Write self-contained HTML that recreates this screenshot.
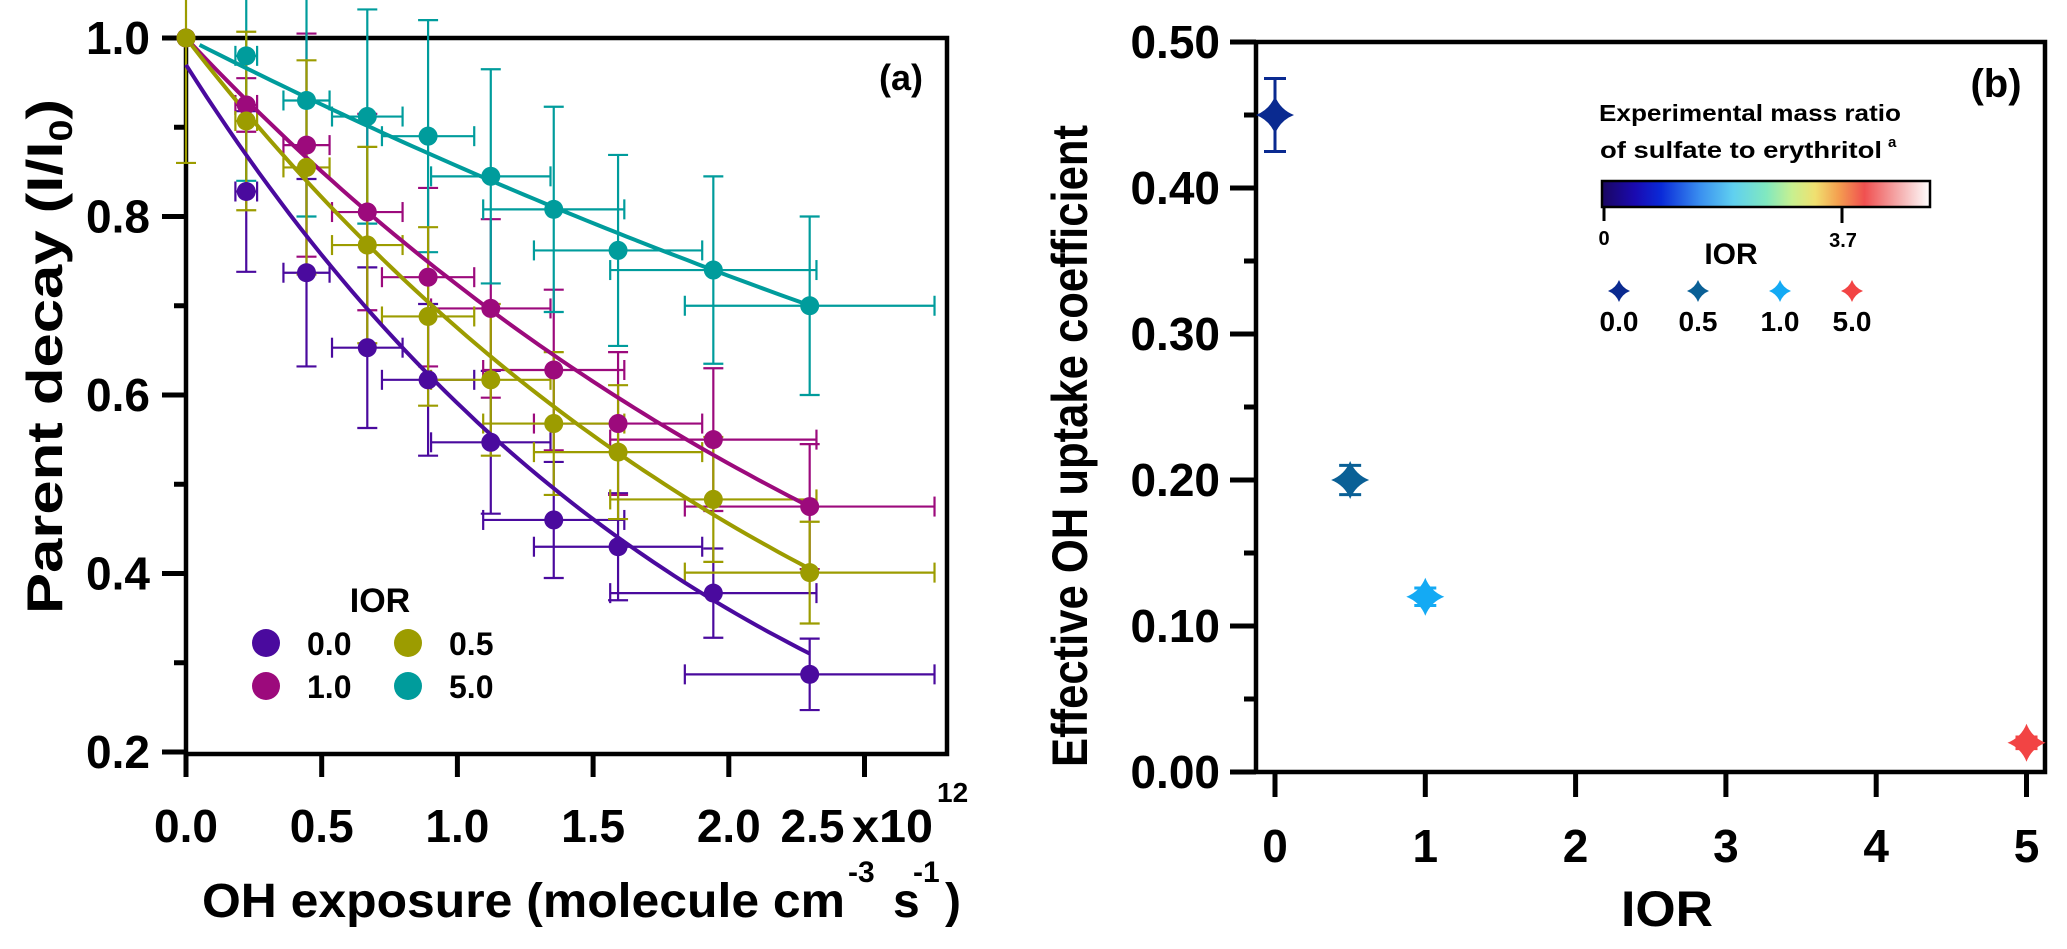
<!DOCTYPE html>
<html><head><meta charset="utf-8"><style>
html,body{margin:0;padding:0;background:#fff}
svg{display:block}
text{font-family:"Liberation Sans",sans-serif;font-weight:bold;fill:#000}
</style></head><body>
<svg id="fig" width="2067" height="949" viewBox="0 0 2067 949" xmlns="http://www.w3.org/2000/svg">
<defs>
<linearGradient id="cbar" x1="0" x2="1" y1="0" y2="0">
<stop offset="0" stop-color="#1a0660"/><stop offset="0.1" stop-color="#1a0ab0"/><stop offset="0.18" stop-color="#0a2ad8"/>
<stop offset="0.3" stop-color="#3a90f0"/><stop offset="0.4" stop-color="#60d0f0"/><stop offset="0.5" stop-color="#80e8c0"/>
<stop offset="0.58" stop-color="#c8f090"/><stop offset="0.65" stop-color="#f0e070"/><stop offset="0.72" stop-color="#f4a050"/>
<stop offset="0.8" stop-color="#f05050"/><stop offset="0.9" stop-color="#f4a8a8"/><stop offset="1" stop-color="#ffffff"/>
</linearGradient>
</defs>
<g id="panelA"></g>
<g id="panelB"></g>
</svg>
<script>
// ---------- Panel (a) data ----------
const exposure = [0, 0.222, 0.444, 0.668, 0.892, 1.123, 1.355, 1.592, 1.943, 2.298];
const exposureErr = [0, 0.04, 0.085, 0.13, 0.17, 0.22, 0.26, 0.31, 0.38, 0.46];
const seriesNames = ["0.0", "1.0", "0.5", "5.0"];
const decay00 = [1.0, 0.828, 0.737, 0.653, 0.617, 0.547, 0.46, 0.43, 0.378, 0.287];
const err00 = [0, 0.09, 0.105, 0.09, 0.085, 0.08, 0.065, 0.06, 0.05, 0.04];
const decay10 = [1.0, 0.925, 0.88, 0.805, 0.732, 0.697, 0.628, 0.568, 0.55, 0.475];
const err10 = [0, 0.03, 0.125, 0.11, 0.1, 0.1, 0.09, 0.08, 0.08, 0.07];
const decay05 = [1.0, 0.907, 0.855, 0.768, 0.688, 0.617, 0.568, 0.536, 0.483, 0.401];
const err05 = [0.14, 0.1, 0.12, 0.11, 0.1, 0.085, 0.08, 0.075, 0.07, 0.057];
const decay50 = [1.0, 0.98, 0.93, 0.912, 0.89, 0.845, 0.808, 0.762, 0.74, 0.70];
const err50 = [0, 0.14, 0.13, 0.12, 0.13, 0.12, 0.115, 0.107, 0.105, 0.1];
const fitA = [0.97, 1.0, 1.0, 1.0];      // fit amplitude
const fitK = [0.496, 0.324, 0.393, 0.155]; // fit decay constant
const fitStart = [0, 0, 0, 0.05];
const colorsA = ["#4a0a9e", "#9c0a7c", "#9c9c00", "#009c9c"];
const yTicksA = [0.2, 0.4, 0.6, 0.8, 1.0];
const yTickLabelsA = ["0.2", "0.4", "0.6", "0.8", "1.0"];
const yMinorA = [0.3, 0.5, 0.7, 0.9];
const xTicksA = [0, 0.5, 1.0, 1.5, 2.0, 2.5];
const xTickLabelsA = ["0.0", "0.5", "1.0", "1.5", "2.0", "2.5"];
// ---------- Panel (b) data ----------
const iorVals = [0, 0.5, 1.0, 5.0];
const uptake = [0.45, 0.20, 0.12, 0.02];
const uptakeErr = [0.025, 0.01, 0.006, 0.004];
const colorsB = ["#0a2a90", "#0a6096", "#14aaf4", "#f24444"];
const iorLabels = ["0.0", "0.5", "1.0", "5.0"];
const yTicksB = [0, 0.1, 0.2, 0.3, 0.4, 0.5];
const yTickLabelsB = ["0.00", "0.10", "0.20", "0.30", "0.40", "0.50"];
const yMinorB = [0.05, 0.15, 0.25, 0.35, 0.45];
const xTicksB = [0, 1, 2, 3, 4, 5];
const xTickLabelsB = ["0", "1", "2", "3", "4", "5"];

const NS = "http://www.w3.org/2000/svg";
function mk(parent, tag, attrs, txt) {
  const e = document.createElementNS(NS, tag);
  for (const k in attrs) e.setAttribute(k, attrs[k]);
  if (txt !== undefined) e.textContent = txt;
  parent.appendChild(e);
  return e;
}
// axis functions
const xA = v => 186 + v * 271.4;
const yA = v => 38 + (1.0 - v) * 892.5;
const xB = v => 1275 + v * 150.3;
const yB = v => 772 - v * 1460;

// ================= PANEL A =================
const A = document.getElementById('panelA');
// frame
let fr = mk(A, 'path', {d: `M186,38 H947 V754 H186 Z`, fill: 'none', stroke: '#000', 'stroke-width': 4.5});


// y ticks
yTicksA.forEach((v, i) => {
  const t = mk(A, 'line', {x1: 162, x2: 186, y1: yA(v), y2: yA(v), stroke: '#000', 'stroke-width': 5});
  
  
  const l = mk(A, 'text', {x: 150, y: yA(v) + 16, 'text-anchor': 'end', 'font-size': 46}, yTickLabelsA[i]);
  
  
});
yMinorA.forEach(v => {
  const t = mk(A, 'line', {x1: 174, x2: 186, y1: yA(v), y2: yA(v), stroke: '#000', 'stroke-width': 5});
  
  
});
xTicksA.forEach((v, i) => {
  const t = mk(A, 'line', {x1: xA(v), x2: xA(v), y1: 754, y2: 777, stroke: '#000', 'stroke-width': 5});
  
  
  const last = i === xTicksA.length - 1;
  const l = mk(A, 'text', {x: last ? xA(v) - 52 : xA(v), y: 842, 'text-anchor': 'middle', 'font-size': 46}, xTickLabelsA[i]);
  
  
});
let tx = mk(A, 'text', {x: 852, y: 842, 'font-size': 46, textLength: 81, lengthAdjust: 'spacingAndGlyphs'}, 'x10');


tx = mk(A, 'text', {x: 937, y: 802, 'font-size': 28}, '12');


// axis titles
tx = mk(A, 'text', {x: 202, y: 917, 'font-size': 48, textLength: 643, lengthAdjust: 'spacingAndGlyphs'}, 'OH exposure (molecule cm');


tx = mk(A, 'text', {x: 848, y: 882, 'font-size': 30}, '-3');  
tx = mk(A, 'text', {x: 893, y: 917, 'font-size': 48}, 's');  
tx = mk(A, 'text', {x: 913, y: 882, 'font-size': 30}, '-1');  
tx = mk(A, 'text', {x: 945, y: 917, 'font-size': 48}, ')');  
const yt = mk(A, 'text', {x: 0, y: 0, 'font-size': 50, transform: 'translate(62,614) rotate(-90)', textLength: 515, lengthAdjust: 'spacingAndGlyphs'});


yt.appendChild(document.createTextNode('Parent  decay (I/I'));
mk(yt, 'tspan', {'font-size': 32, dy: 10}, '0');
mk(yt, 'tspan', {dy: -10}, ')');
tx = mk(A, 'text', {x: 901, y: 90, 'text-anchor': 'middle', 'font-size': 36}, '(a)');



// series
const seriesY = [decay00, decay10, decay05, decay50];
const seriesE = [err00, err10, err05, err50];
// error bars first
[0, 1, 3, 2].forEach(s => {
  const g = mk(A, 'g', {stroke: colorsA[s], 'stroke-width': 2.2, fill: 'none'});
  
  
  exposure.forEach((xv, i) => {
    const yv = seriesY[s][i], ye = seriesE[s][i], xe = exposureErr[i];
    if (ye > 0) {
      mk(g, 'line', {x1: xA(xv), x2: xA(xv), y1: yA(yv + ye), y2: yA(yv - ye)});
      mk(g, 'line', {x1: xA(xv) - 10, x2: xA(xv) + 10, y1: yA(yv + ye), y2: yA(yv + ye)});
      mk(g, 'line', {x1: xA(xv) - 10, x2: xA(xv) + 10, y1: yA(yv - ye), y2: yA(yv - ye)});
    }
    if (xe > 0) {
      mk(g, 'line', {x1: xA(xv - xe), x2: xA(xv + xe), y1: yA(yv), y2: yA(yv)});
      mk(g, 'line', {x1: xA(xv - xe), x2: xA(xv - xe), y1: yA(yv) - 10, y2: yA(yv) + 10});
      mk(g, 'line', {x1: xA(xv + xe), x2: xA(xv + xe), y1: yA(yv) - 10, y2: yA(yv) + 10});
    }
  });
});
// fit curves
[0, 1, 3, 2].forEach(s => {
  let d = '';
  const x1 = exposure[exposure.length - 1];
  for (let j = 0; j <= 60; j++) {
    const xv = fitStart[s] + (x1 - fitStart[s]) * j / 60;
    const yv = fitA[s] * Math.exp(-fitK[s] * xv);
    d += (j ? 'L' : 'M') + xA(xv).toFixed(1) + ',' + yA(yv).toFixed(1);
  }
  const p = mk(A, 'path', {d: d, fill: 'none', stroke: colorsA[s], 'stroke-width': 4});
  
  
});
// points
[3, 0, 1, 2].forEach(s => {
  exposure.forEach((xv, i) => {
    if (s === 3 && i === 0) return;
    const c = mk(A, 'circle', {cx: xA(xv), cy: yA(seriesY[s][i]), r: 9.5, fill: colorsA[s]});
    
    
  });
});
// legend
const legA = mk(A, 'g', {});


tx = mk(legA, 'text', {x: 380, y: 612, 'text-anchor': 'middle', 'font-size': 34}, 'IOR');


const legPos = [[266, 643], [266, 686], [408, 643], [408, 686]];
seriesNames.forEach((n, s) => {
  const ge = mk(legA, 'g', {});
  
  
  mk(ge, 'circle', {cx: legPos[s][0], cy: legPos[s][1], r: 14, fill: colorsA[s]});
  mk(ge, 'text', {x: legPos[s][0] + 41, y: legPos[s][1] + 12, 'font-size': 32}, n);
});

// ================= PANEL B =================
const B = document.getElementById('panelB');
fr = mk(B, 'path', {d: `M1256,42 H2045 V772 H1256 Z`, fill: 'none', stroke: '#000', 'stroke-width': 4.5});


yTicksB.forEach((v, i) => {
  const t = mk(B, 'line', {x1: 1230, x2: 1256, y1: yB(v), y2: yB(v), stroke: '#000', 'stroke-width': 5});
  
  
  const l = mk(B, 'text', {x: 1220, y: yB(v) + 16, 'text-anchor': 'end', 'font-size': 46}, yTickLabelsB[i]);
  
  
});
yMinorB.forEach(v => {
  const t = mk(B, 'line', {x1: 1244, x2: 1256, y1: yB(v), y2: yB(v), stroke: '#000', 'stroke-width': 5});
  
  
});
xTicksB.forEach((v, i) => {
  const t = mk(B, 'line', {x1: xB(v), x2: xB(v), y1: 772, y2: 797, stroke: '#000', 'stroke-width': 5});
  
  
  const l = mk(B, 'text', {x: xB(v), y: 862, 'text-anchor': 'middle', 'font-size': 46}, xTickLabelsB[i]);
  
  
});
tx = mk(B, 'text', {x: 1667, y: 926, 'text-anchor': 'middle', 'font-size': 50, textLength: 92, lengthAdjust: 'spacingAndGlyphs'}, 'IOR');


tx = mk(B, 'text', {x: 0, y: 0, 'font-size': 50, transform: 'translate(1087,767) rotate(-90)', textLength: 642, lengthAdjust: 'spacingAndGlyphs'}, 'Effective OH uptake  coefficient');


tx = mk(B, 'text', {x: 1996, y: 97, 'text-anchor': 'middle', 'font-size': 40}, '(b)');



function star(cx, cy, r) {
  const w = r * 0.28;
  return `M${cx},${cy - r} Q${cx + w},${cy - w} ${cx + r},${cy} Q${cx + w},${cy + w} ${cx},${cy + r} Q${cx - w},${cy + w} ${cx - r},${cy} Q${cx - w},${cy - w} ${cx},${cy - r} Z`;
}
iorVals.forEach((v, i) => {
  const g = mk(B, 'g', {});
  
  
  const cx = xB(v), cy = yB(uptake[i]), e = uptakeErr[i];
  mk(g, 'line', {x1: cx, x2: cx, y1: yB(uptake[i] + e), y2: yB(uptake[i] - e), stroke: colorsB[i], 'stroke-width': 3});
  mk(g, 'line', {x1: cx - 11, x2: cx + 11, y1: yB(uptake[i] + e), y2: yB(uptake[i] + e), stroke: colorsB[i], 'stroke-width': 3});
  mk(g, 'line', {x1: cx - 11, x2: cx + 11, y1: yB(uptake[i] - e), y2: yB(uptake[i] - e), stroke: colorsB[i], 'stroke-width': 3});
  mk(g, 'path', {d: star(cx, cy, 19), fill: colorsB[i]});
});
// legend b
const legB = mk(B, 'g', {});


tx = mk(legB, 'text', {x: 1599, y: 121, 'font-size': 23, textLength: 302, lengthAdjust: 'spacingAndGlyphs'}, 'Experimental mass ratio');


tx = mk(legB, 'text', {x: 1600, y: 158, 'font-size': 23, textLength: 282, lengthAdjust: 'spacingAndGlyphs'}, 'of sulfate to erythritol');


tx = mk(legB, 'text', {x: 1888, y: 147, 'font-size': 15}, 'a');


const cb = mk(legB, 'rect', {x: 1602, y: 181, width: 328, height: 26, fill: 'url(#cbar)', stroke: '#000', 'stroke-width': 2.5});


mk(legB, 'line', {x1: 1604, x2: 1604, y1: 207, y2: 221, stroke: '#000', 'stroke-width': 3});
mk(legB, 'line', {x1: 1842, x2: 1842, y1: 207, y2: 223, stroke: '#000', 'stroke-width': 3});
tx = mk(legB, 'text', {x: 1604, y: 245, 'text-anchor': 'middle', 'font-size': 20}, '0');
 
tx = mk(legB, 'text', {x: 1843, y: 247, 'text-anchor': 'middle', 'font-size': 20}, '3.7');
 
tx = mk(legB, 'text', {x: 1731, y: 264, 'text-anchor': 'middle', 'font-size': 30}, 'IOR');
 
const legBx = [1619, 1698, 1780, 1852];
iorLabels.forEach((n, i) => {
  const ge = mk(legB, 'g', {});
  
  
  mk(ge, 'path', {d: star(legBx[i], 291, 11), fill: colorsB[i]});
  mk(ge, 'text', {x: legBx[i], y: 331, 'text-anchor': 'middle', 'font-size': 28}, n);
});
</script>
</body></html>
